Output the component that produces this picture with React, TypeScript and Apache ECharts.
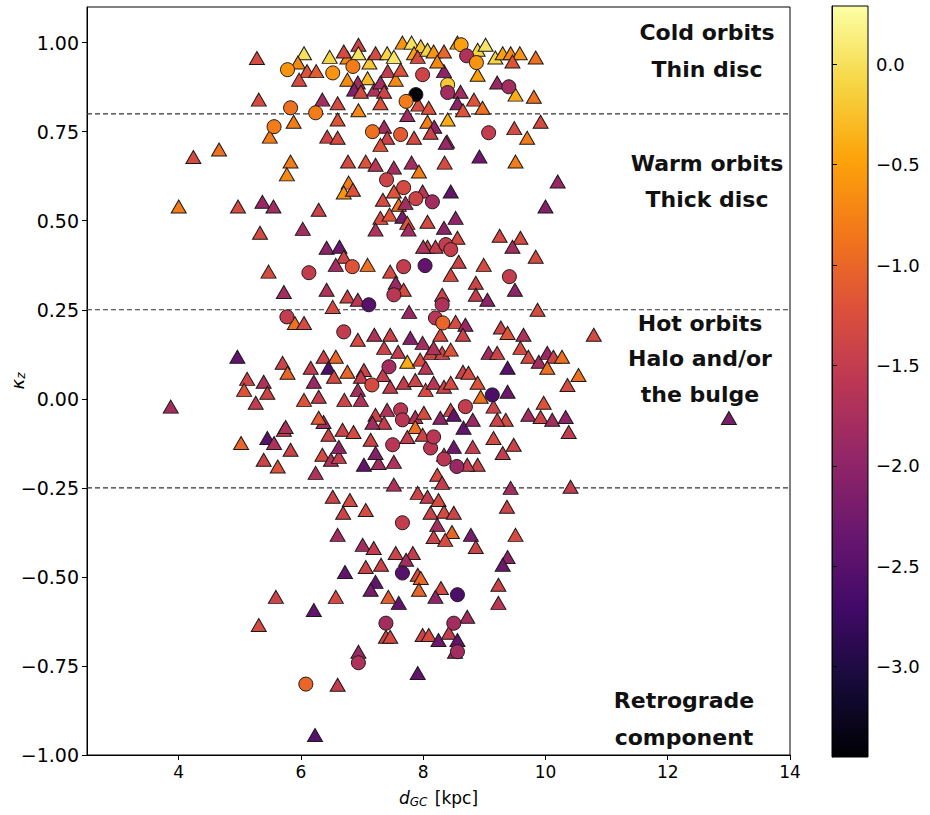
import React, { useEffect, useRef } from "react";
import * as echarts from "echarts";

// ---- axis ticks ----
const X_TICKS = [4, 6, 8, 10, 12, 14];
const Y_TICKS = [-1, -0.75, -0.5, -0.25, 0, 0.25, 0.5, 0.75, 1];
const CBAR_TICKS = [-3, -2.5, -2, -1.5, -1, -0.5, 0];
const X_RANGE = [2.5, 14];
const Y_RANGE = [-1, 1.1];
const FEH_RANGE = [-3.45, 0.29];
const BOUNDARIES = [0.8, 0.25, -0.25];

// inferno colormap samples (t = 0 .. 1)
const INFERNO = [
  "#000004", "#160b39", "#420a68", "#6a176e", "#932667", "#bc3754",
  "#dd513a", "#f37819", "#fca50a", "#f6d746", "#fcffa4",
];

const REGION_LABELS = [
  { lines: ["Cold orbits", "Thin disc"], cx: 707, ys: [32, 69] },
  { lines: ["Warm orbits", "Thick disc"], cx: 707, ys: [163, 199] },
  { lines: ["Hot orbits", "Halo and/or", "the bulge"], cx: 700, ys: [323, 358, 394] },
  { lines: ["Retrograde", "component"], cx: 684, ys: [700, 737] },
];

// [d_GC (kpc), kappa_z, [Fe/H]]
const circles: number[][] = [
  [5.78, 0.924, -0.6], [6.52, 0.915, -0.6], [6.85, 0.933, -0.8], [7.99, 0.91, -1.4],
  [8.62, 0.994, -0.5], [8.71, 0.963, -1.7], [8.87, 0.944, -0.6], [7.88, 0.854, -3.42],
  [7.72, 0.835, -0.8], [8.4, 0.882, -0.2], [8.4, 0.86, -1.8], [9.4, 0.876, -1.8],
  [5.83, 0.817, -0.9], [6.24, 0.803, -0.8], [7.17, 0.75, -0.9], [7.63, 0.742, -1.1],
  [5.56, 0.764, -0.8], [9.07, 0.747, -1.5], [7.4, 0.615, -1.4], [7.68, 0.593, -1.3],
  [7.88, 0.562, -1.4], [8.15, 0.553, -1.8], [8.37, 0.433, -1.5], [8.45, 0.419, -1.5],
  [6.84, 0.371, -1.2], [6.13, 0.354, -1.5], [7.68, 0.371, -1.5], [8.03, 0.374, -2.4],
  [9.41, 0.343, -1.5], [7.52, 0.292, -1.6], [7.11, 0.264, -2.5], [8.31, 0.264, -1.7],
  [5.77, 0.23, -1.5], [8.2, 0.227, -1.6], [8.32, 0.213, -1.0], [6.7, 0.188, -1.5],
  [7.44, 0.09, -1.8], [7.16, 0.039, -1.3], [9.13, 0.011, -2.6], [7.63, -0.031, -1.6],
  [7.66, -0.059, -1.6], [8.69, -0.022, -1.5], [7.5, -0.129, -1.6], [8.12, -0.138, -1.6],
  [8.17, -0.107, -1.6], [8.34, -0.169, -1.6], [8.55, -0.19, -1.9], [7.66, -0.348, -1.5],
  [7.66, -0.489, -2.5], [8.56, -0.55, -2.6], [7.39, -0.63, -1.8], [8.5, -0.63, -1.8],
  [8.56, -0.71, -1.8], [6.94, -0.741, -1.7], [6.08, -0.801, -1.0],
];

const triangles: number[][] = [
  // kappa_z > 0.7
  [5.28, 0.957, -1.3], [6.05, 0.97, 0.0], [5.95, 0.944, -0.7], [6.1, 0.92, -1.2],
  [6.25, 0.92, -1.1], [5.97, 0.896, -1.3], [6.47, 0.96, -0.1], [6.76, 0.958, -0.7],
  [6.7, 0.975, -1.3], [6.94, 0.994, -1.4], [6.94, 0.97, 0.0], [7.12, 0.944, -0.2],
  [6.76, 0.896, -0.7], [7.09, 0.9, -0.3], [7.22, 0.97, -1.3], [7.41, 0.97, -0.1],
  [7.52, 0.96, 0.05], [7.42, 0.92, -1.5], [7.55, 0.896, -0.7], [7.63, 0.924, -1.2],
  [6.93, 0.888, -1.8], [6.87, 0.868, -2.1], [6.98, 0.862, -1.3], [7.2, 0.868, -1.7],
  [7.3, 0.888, -1.8], [7.36, 0.862, -1.4], [7.66, 1.0, -0.6], [7.81, 1.0, 0.0],
  [7.96, 0.99, -0.2], [7.85, 0.97, -0.5], [7.91, 0.96, -1.3], [8.07, 0.98, -0.1],
  [8.17, 0.975, -0.6], [8.34, 0.975, -1.0], [8.34, 0.92, -2.0], [8.23, 0.947, -0.7],
  [8.56, 1.0, -0.5], [8.89, 0.98, -0.1], [9.02, 0.994, 0.05], [8.89, 0.91, -0.5],
  [9.18, 0.958, -0.1], [9.3, 0.97, -0.5], [9.43, 0.97, -0.7], [9.58, 0.97, -0.6],
  [9.46, 0.947, -1.2], [9.84, 0.958, -0.9], [9.81, 0.848, -0.9], [9.21, 0.888, -1.9],
  [9.51, 0.854, -0.4], [8.61, 0.862, -1.8], [8.56, 0.83, -2.0], [8.83, 0.84, -1.2],
  [8.97, 0.817, -0.9], [8.65, 0.81, -1.2], [5.31, 0.84, -1.3], [6.35, 0.84, -1.8],
  [6.6, 0.83, -1.3], [6.94, 0.81, -0.7], [7.3, 0.83, -1.2], [7.74, 0.797, -1.8],
  [7.92, 0.826, -1.3], [8.09, 0.817, -1.2], [8.07, 0.778, -0.8], [8.4, 0.784, -0.4],
  [8.18, 0.764, -2.0], [7.36, 0.764, -1.8], [7.85, 0.733, -1.3], [8.12, 0.747, -1.4],
  [8.39, 0.722, -1.8], [7.41, 0.733, -1.4], [5.88, 0.778, -0.8], [5.49, 0.736, -0.8],
  [6.6, 0.784, -1.2], [9.49, 0.76, -1.3], [9.92, 0.778, -1.3], [9.7, 0.733, -0.8],
  [6.43, 0.736, -1.4], [6.6, 0.733, -1.3],
  // 0.2 < kappa_z < 0.7
  [4.24, 0.679, -1.3], [4.66, 0.7, -0.9], [5.83, 0.666, -0.8], [5.77, 0.63, -0.7],
  [6.77, 0.666, -1.3], [7.06, 0.666, -1.2], [7.22, 0.657, -1.6], [7.52, 0.649, -1.8],
  [7.81, 0.663, -1.8], [7.93, 0.638, -0.8], [8.35, 0.663, -1.3], [8.92, 0.68, -2.3],
  [9.51, 0.666, -0.8], [10.2, 0.61, -1.9], [7.3, 0.713, -1.2], [8.37, 0.719, -1.9],
  [6.78, 0.607, -0.8], [6.7, 0.579, -0.6], [6.85, 0.587, -1.2], [7.52, 0.582, -1.2],
  [7.99, 0.582, -1.6], [8.45, 0.582, -2.4], [7.34, 0.559, -1.3], [7.6, 0.545, -0.9],
  [7.71, 0.55, -1.8], [4.0, 0.54, -0.8], [4.97, 0.54, -1.3], [5.37, 0.553, -1.9],
  [5.55, 0.54, -1.8], [6.29, 0.531, -1.4], [10.0, 0.54, -2.1], [7.3, 0.508, -1.3],
  [7.45, 0.517, -1.2], [7.66, 0.511, -2.2], [7.74, 0.494, -1.2], [8.53, 0.508, -2.0],
  [8.07, 0.497, -1.3], [7.22, 0.475, -1.7], [7.76, 0.475, -1.8], [8.34, 0.48, -2.0],
  [5.33, 0.466, -1.3], [6.03, 0.477, -1.8], [9.25, 0.458, -1.3], [9.59, 0.452, -1.3],
  [9.46, 0.427, -1.8], [8.07, 0.427, -1.4], [8.2, 0.427, -1.5], [8.0, 0.427, -1.7],
  [8.56, 0.452, -1.3], [6.42, 0.424, -2.0], [6.63, 0.427, -2.3], [6.7, 0.399, -1.4],
  [6.57, 0.376, -1.8], [7.09, 0.376, -0.9], [5.47, 0.357, -1.3], [7.46, 0.357, -1.3],
  [8.45, 0.348, -1.3], [8.58, 0.385, -1.4], [8.99, 0.376, -1.3], [9.84, 0.399, -1.3],
  [9.5, 0.306, -2.0], [8.86, 0.326, -1.4], [5.72, 0.3, -1.8], [6.42, 0.306, -1.7],
  [6.76, 0.287, -1.4], [6.93, 0.278, -1.6], [7.55, 0.326, -1.9], [7.68, 0.306, -1.3],
  [8.31, 0.292, -1.4], [8.86, 0.292, -1.5], [9.05, 0.278, -2.0], [6.52, 0.258, -1.3],
  [9.87, 0.25, -1.3], [7.77, 0.244, -1.9], [5.9, 0.213, -0.9], [6.05, 0.213, -1.3],
  [8.53, 0.216, -1.3], [8.69, 0.208, -1.9],
  // -0.25 < kappa_z < 0.2
  [6.93, 0.166, -1.3], [7.2, 0.18, -1.7], [7.46, 0.18, -1.4], [7.79, 0.171, -2.1],
  [7.99, 0.157, -1.8], [8.28, 0.18, -1.3], [8.65, 0.18, -1.4], [9.27, 0.2, -1.4],
  [9.38, 0.185, -1.2], [9.64, 0.18, -1.7], [10.79, 0.18, -1.3], [4.96, 0.118, -2.4],
  [5.7, 0.101, -1.4], [5.78, 0.073, -1.0], [6.16, 0.087, -1.5], [6.37, 0.118, -1.4],
  [6.57, 0.118, -1.0], [6.45, 0.087, -2.6], [6.76, 0.076, -1.0], [6.54, 0.062, -1.3],
  [7.03, 0.081, -1.4], [7.34, 0.067, -1.5], [7.74, 0.104, -0.4], [7.95, 0.11, -1.3],
  [8.12, 0.129, -1.4], [8.31, 0.129, -1.4], [8.17, 0.143, -1.7], [7.59, 0.132, -1.5],
  [7.36, 0.143, -1.4], [8.04, 0.087, -1.6], [8.45, 0.138, -1.2], [8.65, 0.076, -1.4],
  [9.07, 0.129, -1.8], [9.21, 0.129, -1.4], [9.59, 0.143, -1.3], [9.72, 0.118, -1.3],
  [9.89, 0.104, -1.8], [10.03, 0.129, -1.9], [10.13, 0.118, -1.4], [10.27, 0.118, -0.9],
  [10.03, 0.087, -0.9], [9.38, 0.087, -2.5], [10.54, 0.067, -0.9], [10.36, 0.039, -1.3],
  [5.12, 0.056, -1.4], [5.39, 0.048, -1.7], [5.07, 0.025, -1.2], [5.45, 0.017, -1.4],
  [5.26, -0.011, -1.5], [3.87, -0.022, -1.8], [6.21, 0.048, -1.9], [6.29, 0.006, -1.5],
  [6.05, -0.003, -1.2], [6.98, 0.062, -1.5], [6.93, 0.025, -1.8], [6.71, -0.003, -1.4],
  [6.98, -0.003, -1.7], [7.46, 0.034, -1.5], [7.68, 0.045, -1.5], [7.87, 0.053, -1.4],
  [8.04, 0.025, -1.3], [8.17, 0.045, -1.6], [8.34, 0.034, -1.4], [8.45, 0.045, -1.3],
  [8.74, 0.073, -1.3], [8.89, 0.045, -1.2], [8.94, 0.006, -0.9], [9.38, 0.02, -2.3],
  [9.15, -0.022, -1.4], [9.97, -0.011, -1.2], [9.72, -0.045, -1.8], [9.92, -0.051, -1.4],
  [10.11, -0.059, -1.8], [10.33, -0.051, -2.0], [10.38, -0.093, -1.5], [9.35, -0.059, -1.3],
  [9.21, -0.059, -1.4], [7.22, -0.045, -1.4], [7.41, -0.031, -1.7], [7.36, -0.067, -1.5],
  [7.87, -0.051, -1.7], [7.87, -0.079, -0.9], [8.01, -0.039, -1.3], [8.28, -0.053, -2.0],
  [8.45, -0.031, -1.4], [8.5, -0.045, -2.4], [8.66, -0.081, -2.4], [8.81, -0.059, -1.9],
  [6.37, -0.065, -1.8], [6.45, -0.101, -1.4], [6.68, -0.087, -1.4], [6.86, -0.093, -1.3],
  [7.14, -0.115, -1.4], [7.17, -0.067, -1.8], [6.29, -0.053, -1.1], [5.72, -0.087, -1.4],
  [5.75, -0.079, -1.7], [5.02, -0.124, -1.0], [5.45, -0.11, -2.5], [5.56, -0.124, -1.7],
  [5.83, -0.143, -1.4], [5.39, -0.171, -1.4], [5.62, -0.19, -1.2], [6.24, -0.208, -1.7],
  [6.35, -0.157, -1.3], [6.49, -0.171, -1.7], [6.62, -0.163, -1.5], [6.62, -0.135, -2.0],
  [7.03, -0.185, -2.4], [7.27, -0.18, -1.8], [7.22, -0.152, -2.1], [7.52, -0.177, -1.7],
  [7.99, -0.101, -1.4], [7.74, -0.107, -1.5], [8.34, -0.157, -1.3], [8.5, -0.135, -2.3],
  [8.81, -0.135, -1.5], [8.89, -0.185, -1.4], [8.72, -0.185, -1.5], [9.15, -0.11, -1.3],
  [9.3, -0.152, -1.5], [9.48, -0.129, -1.4], [8.23, -0.213, -1.3], [8.31, -0.236, -1.5],
  [7.52, -0.241, -1.7], [9.43, -0.25, -1.8], [10.41, -0.247, -1.5], [13.0, -0.054, -2.2],
  // kappa_z < -0.25
  [6.52, -0.275, -1.4], [6.8, -0.284, -1.3], [6.69, -0.32, -1.4], [7.06, -0.312, -1.3],
  [7.91, -0.264, -1.4], [8.07, -0.275, -1.5], [8.25, -0.284, -1.3], [8.12, -0.32, -1.4],
  [8.34, -0.317, -1.3], [8.5, -0.32, -1.4], [8.23, -0.354, -1.8], [8.17, -0.388, -1.4],
  [8.47, -0.374, -1.0], [8.36, -0.396, -1.3], [8.78, -0.382, -2.2], [8.86, -0.416, -1.4],
  [9.37, -0.303, -1.4], [9.51, -0.382, -1.3], [6.6, -0.382, -1.8], [7.01, -0.41, -1.8],
  [7.19, -0.419, -1.5], [7.55, -0.433, -1.4], [7.83, -0.433, -1.5], [7.72, -0.452, -1.8],
  [7.06, -0.472, -1.4], [7.31, -0.466, -1.4], [6.72, -0.486, -2.4], [7.91, -0.494, -1.3],
  [7.96, -0.503, -1.0], [7.93, -0.536, -1.0], [7.22, -0.514, -2.4], [7.14, -0.536, -2.2],
  [7.43, -0.556, -1.1], [7.6, -0.573, -2.4], [8.29, -0.531, -1.3], [8.2, -0.556, -2.0],
  [9.38, -0.444, -2.0], [9.3, -0.466, -2.3], [9.23, -0.522, -1.4], [9.23, -0.573, -1.6],
  [5.59, -0.556, -1.4], [6.57, -0.556, -1.3], [6.21, -0.593, -2.4], [5.31, -0.635, -1.3],
  [8.72, -0.612, -1.8], [7.39, -0.668, -1.4], [7.46, -0.668, -1.3], [7.99, -0.663, -1.4],
  [8.09, -0.663, -1.3], [8.25, -0.677, -2.3], [8.42, -0.657, -1.5], [8.56, -0.677, -2.4],
  [8.52, -0.71, -1.9], [6.94, -0.71, -1.9], [6.6, -0.803, -1.5], [7.91, -0.77, -2.4],
  [6.23, -0.944, -2.5],
];

const minus = (s: string) => s.replace("-", "\u2212");
const TICK_FONT = "DejaVu Sans";

export default function App() {
  const ref = useRef<HTMLDivElement>(null);

  useEffect(() => {
    if (!ref.current) return;
    const chart = echarts.init(ref.current, undefined, { renderer: "svg" });

    const n = INFERNO.length - 1;
    const cbarGradient = new echarts.graphic.LinearGradient(
      0, 0, 0, 1,
      INFERNO.map((c, i) => ({ offset: i / n, color: INFERNO[n - i] }))
    );

    const boundarySeries = BOUNDARIES.map((b) => ({
      type: "line",
      xAxisIndex: 0,
      yAxisIndex: 0,
      data: [[X_RANGE[0], b], [X_RANGE[1], b]],
      symbol: "none",
      silent: true,
      z: 1,
      lineStyle: { color: "#333", width: 1.2, type: [5, 3] },
    }));

    const graphics: any[] = [];
    REGION_LABELS.forEach((r) => {
      r.lines.forEach((line, i) => {
        graphics.push({
          type: "text",
          x: r.cx,
          y: r.ys[i],
          z: 50,
          silent: true,
          style: {
            text: line,
            fill: "#111",
            font: 'bold 22px "DejaVu Sans"',
            textAlign: "center",
            textVerticalAlign: "middle",
          },
        });
      });
    });

    const option: any = {
      animation: false,
      backgroundColor: "#fff",
      grid: [
        {
          left: 87, top: 7, width: 703, height: 748,
          outerBoundsMode: "none", containLabel: false,
          show: true, borderColor: "#000", borderWidth: 1,
          backgroundColor: "transparent",
        },
        {
          left: 832, top: 6, width: 36, height: 751,
          outerBoundsMode: "none", containLabel: false,
          show: true, borderColor: "#000", borderWidth: 1,
          backgroundColor: cbarGradient,
        },
      ],
      xAxis: [
        {
          gridIndex: 0,
          type: "value",
          min: X_RANGE[0],
          max: X_RANGE[1],
          name: "{i|d}{s|GC} [kpc]",
          nameLocation: "middle",
          nameGap: 33,
          nameMoveOverlap: false,
          nameTextStyle: {
            fontSize: 17, fontFamily: TICK_FONT, color: "#000",
            rich: {
              i: { fontSize: 17, fontStyle: "italic", fontFamily: TICK_FONT, color: "#000" },
              s: { fontSize: 12, fontStyle: "italic", fontFamily: TICK_FONT, color: "#000", padding: [8, 2, 0, 0] },
            },
          },
          axisLine: { show: true, onZero: false, lineStyle: { color: "#000", width: 1 } },
          axisTick: { show: true, customValues: X_TICKS, length: 5, lineStyle: { color: "#000" } },
          axisLabel: {
            customValues: X_TICKS, color: "#000", fontSize: 17, fontFamily: TICK_FONT, margin: 8,
            formatter: (v: number) => minus(String(v)),
          },
          splitLine: { show: false },
        },
        { gridIndex: 1, type: "value", min: 0, max: 1, show: false },
      ],
      yAxis: [
        {
          gridIndex: 0,
          type: "value",
          min: Y_RANGE[0],
          max: Y_RANGE[1],
          name: "{k|κ}{s|z}",
          nameLocation: "middle",
          nameRotate: 90,
          nameGap: 60,
          nameMoveOverlap: false,
          nameTextStyle: {
            color: "#000",
            rich: {
              k: { fontSize: 18, fontStyle: "italic", fontFamily: TICK_FONT, color: "#000" },
              s: { fontSize: 12, fontStyle: "italic", fontFamily: TICK_FONT, color: "#000", padding: [8, 0, 0, 0] },
            },
          },
          axisLine: { show: true, onZero: false, lineStyle: { color: "#000", width: 1 } },
          axisTick: { show: true, customValues: Y_TICKS, length: 5, lineStyle: { color: "#000" } },
          axisLabel: {
            customValues: Y_TICKS, color: "#000", fontSize: 19, fontFamily: TICK_FONT, margin: 8,
            formatter: (v: number) => minus(v.toFixed(2)),
          },
          splitLine: { show: false },
        },
        {
          gridIndex: 1,
          type: "value",
          position: "right",
          min: FEH_RANGE[0],
          max: FEH_RANGE[1],
          axisLine: { show: true, lineStyle: { color: "#000", width: 1 } },
          axisTick: { show: true, customValues: CBAR_TICKS, length: 5, lineStyle: { color: "#000" } },
          axisLabel: {
            customValues: CBAR_TICKS, color: "#000", fontSize: 18, fontFamily: TICK_FONT, margin: 8,
            formatter: (v: number) => minus(v.toFixed(1)),
          },
          splitLine: { show: false },
        },
      ],
      visualMap: {
        show: false,
        type: "continuous",
        min: FEH_RANGE[0],
        max: FEH_RANGE[1],
        dimension: 2,
        seriesIndex: [BOUNDARIES.length, BOUNDARIES.length + 1],
        inRange: { color: INFERNO },
      },
      series: [
        ...boundarySeries,
        {
          type: "scatter",
          name: "triangles",
          xAxisIndex: 0,
          yAxisIndex: 0,
          symbol: "triangle",
          symbolSize: [15, 13],
          data: triangles,
          z: 3,
          itemStyle: { borderColor: "#1a1a1a", borderWidth: 1, opacity: 1 },
        },
        {
          type: "scatter",
          name: "circles",
          xAxisIndex: 0,
          yAxisIndex: 0,
          symbol: "circle",
          symbolSize: 14,
          data: circles,
          z: 4,
          itemStyle: { borderColor: "#1a1a1a", borderWidth: 1, opacity: 1 },
        },
      ],
      graphic: graphics,
    };

    chart.setOption(option);
    return () => chart.dispose();
  }, []);

  return (
    <div
      ref={ref}
      style={{ position: "fixed", left: 0, top: 0, width: 930, height: 815, background: "#fff" }}
    />
  );
}
